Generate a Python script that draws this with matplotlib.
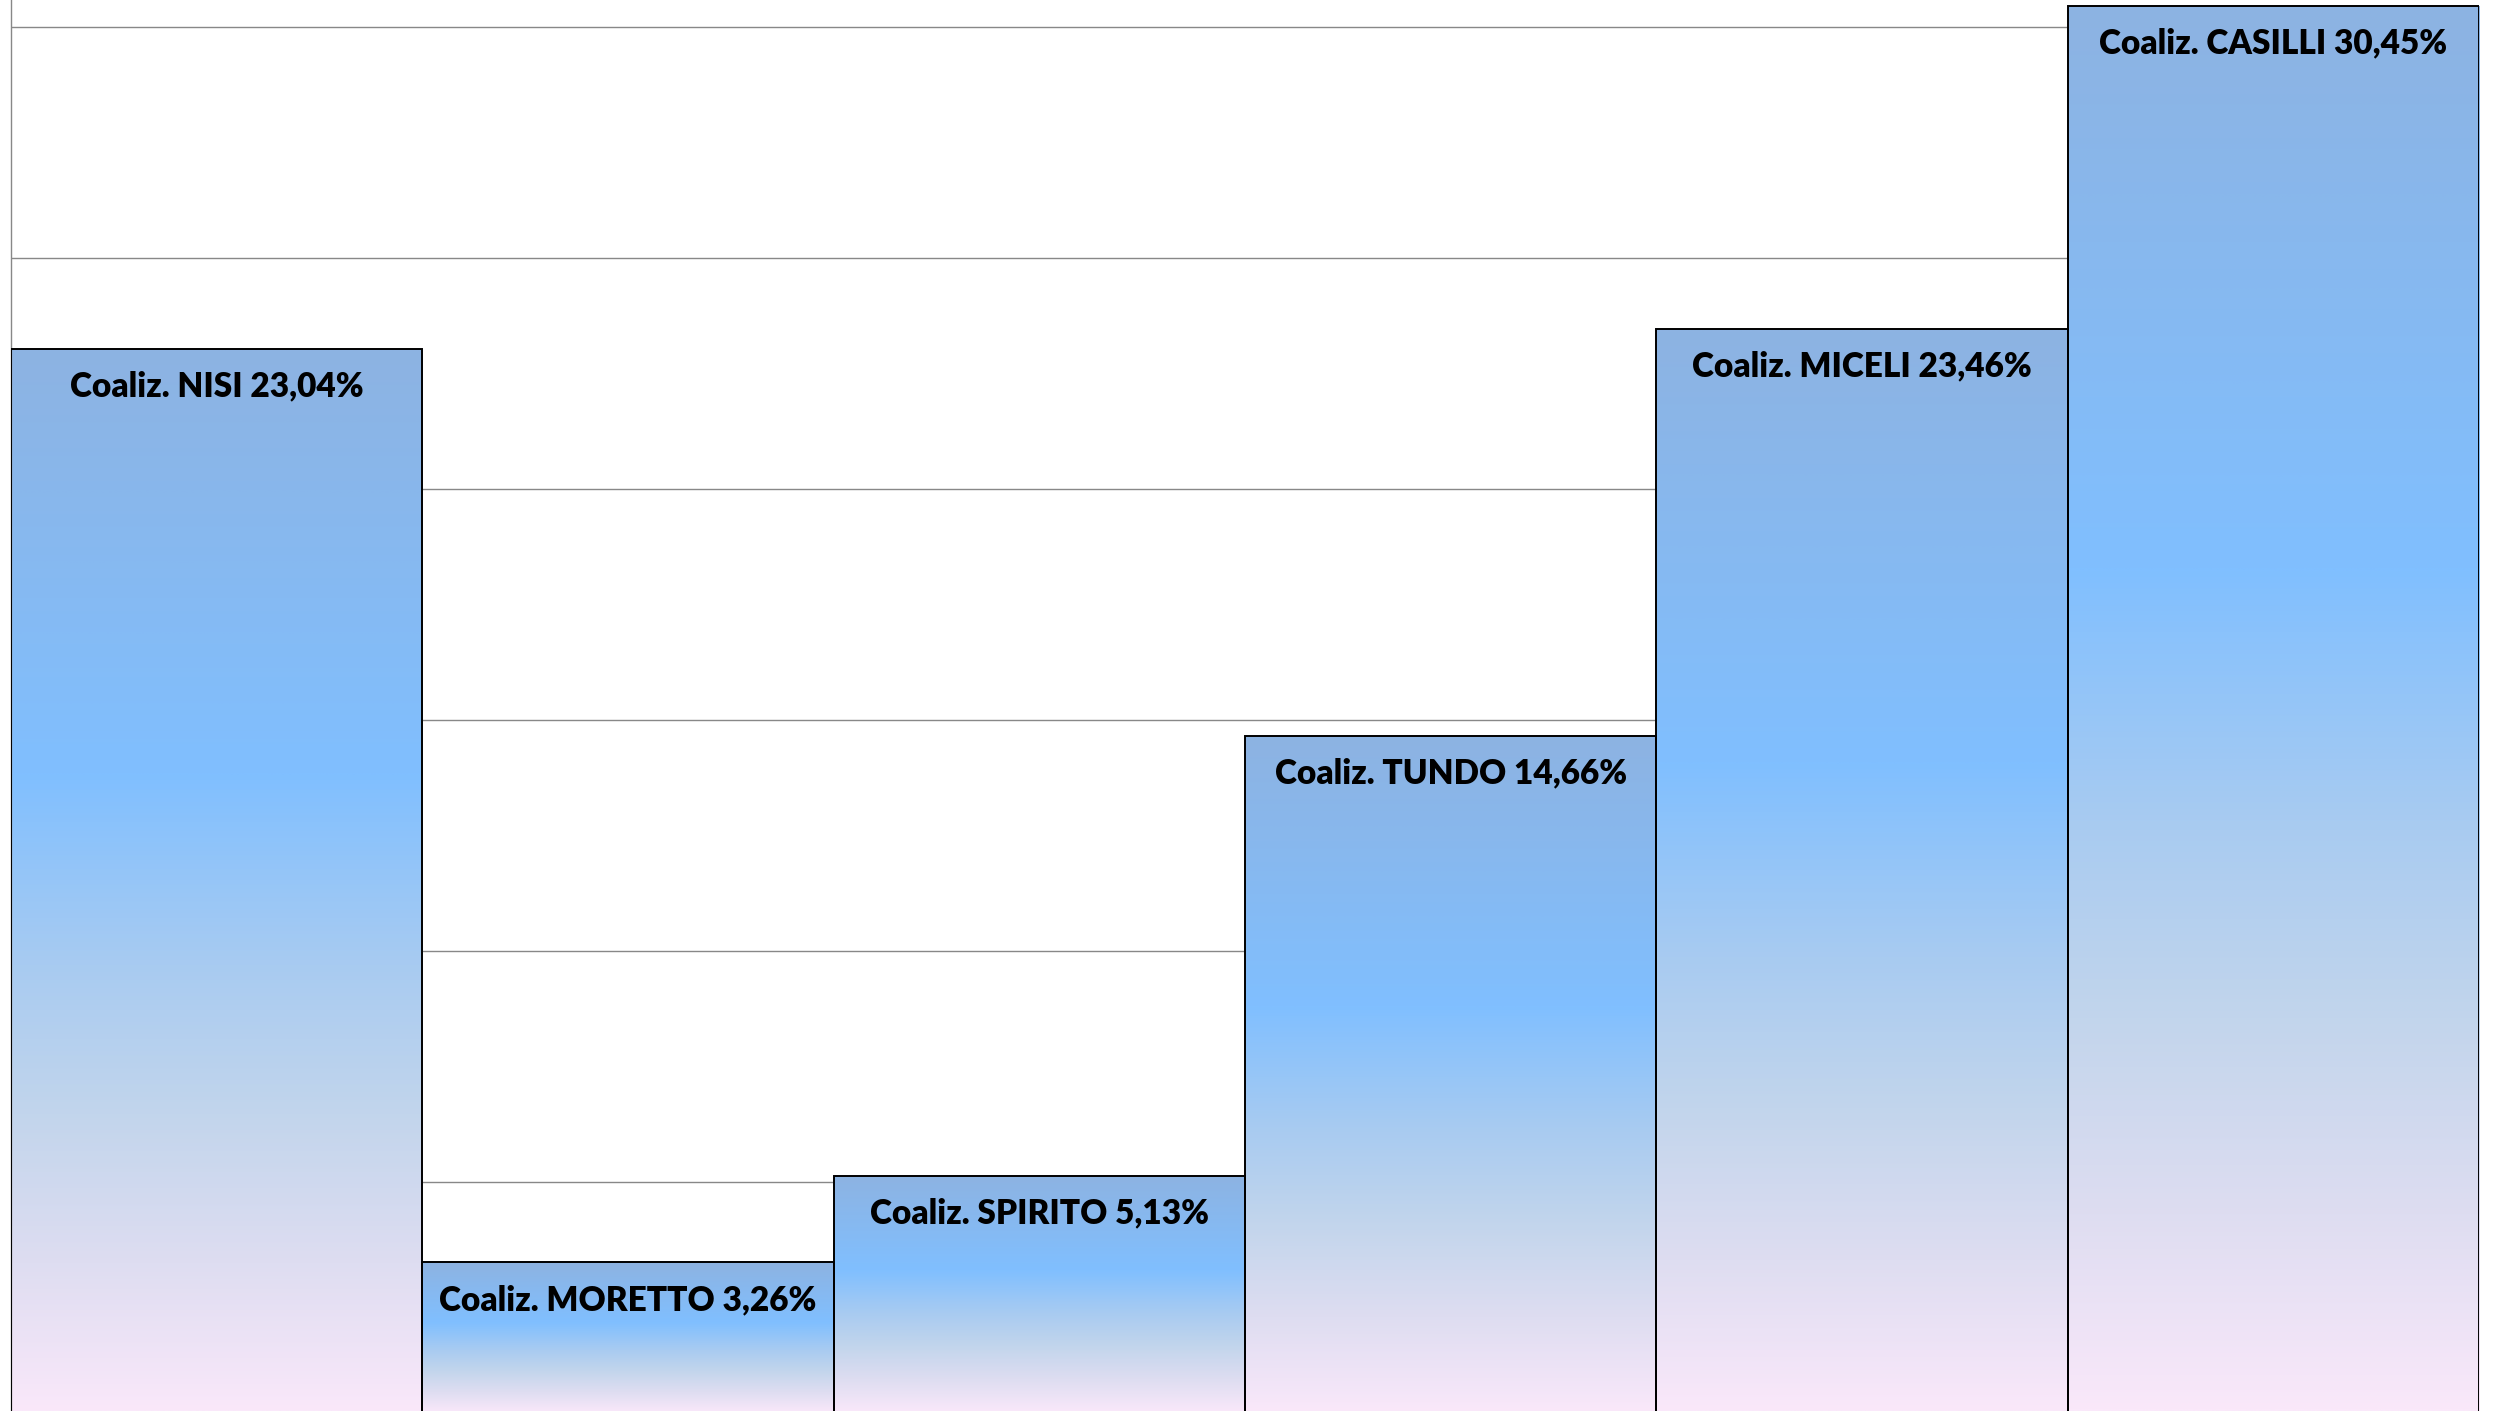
import matplotlib
matplotlib.use("Agg")
import matplotlib.pyplot as plt
import numpy as np
from matplotlib.colors import LinearSegmentedColormap

categories = ["NISI", "MORETTO", "SPIRITO", "TUNDO", "MICELI", "CASILLI"]
values = [23.04, 3.26, 5.13, 14.66, 23.46, 30.45]
labels = ["Coaliz. NISI 23,04%", "Coaliz. MORETTO 3,26%", "Coaliz. SPIRITO 5,13%",
          "Coaliz. TUNDO 14,66%", "Coaliz. MICELI 23,46%", "Coaliz. CASILLI 30,45%"]
grid_ticks = [5, 10, 15, 20, 25, 30]

W, H = 2495, 1411
fig = plt.figure(figsize=(W / 100, H / 100), dpi=100)
ax = fig.add_axes([11 / W, 0, (2479 - 11) / W, 1])
ax.set_xlim(-0.5, len(values) - 0.5)
ax.set_ylim(0.043, 30.584)

cmap = LinearSegmentedColormap.from_list(
    "grad",
    [(0.0, "#8DB3E2"), (0.40, "#80BFFF"), (0.58, "#A8CBF1"),
     (0.72, "#C2D5EC"), (0.86, "#DEDDF1"), (1.0, "#FAE8FA")])
grad = np.linspace(0, 1, 512).reshape(-1, 1)

for y in grid_ticks:
    ax.axhline(y, color="#888888", lw=1.0, zorder=1)

bars = ax.bar(range(len(values)), values, width=1.0, facecolor="none",
              edgecolor="black", linewidth=1.4, zorder=3)
for b, lab in zip(bars, labels):
    x0, w, h = b.get_x(), b.get_width(), b.get_height()
    im = ax.imshow(grad, cmap=cmap, aspect="auto", extent=[x0, x0 + w, 0, h],
                   origin="upper", zorder=2, interpolation="bilinear")
    im.set_clip_path(b)
    ax.annotate(lab, (x0 + w / 2, h), xytext=(0, -27), textcoords="offset points",
                ha="center", va="center", fontsize=24, fontweight="heavy",
                family=["Lato", "DejaVu Sans"], color="black", zorder=4)

ax.set_xlim(-0.5, len(values) - 0.5)
ax.set_ylim(0.043, 30.584)
ax.set_xticks([])
ax.set_yticks([])
for s in ["top", "right", "bottom"]:
    ax.spines[s].set_visible(False)
ax.spines["left"].set_color("#888888")
ax.spines["left"].set_linewidth(1.0)

fig.savefig("out.png", dpi=100, facecolor="white")
